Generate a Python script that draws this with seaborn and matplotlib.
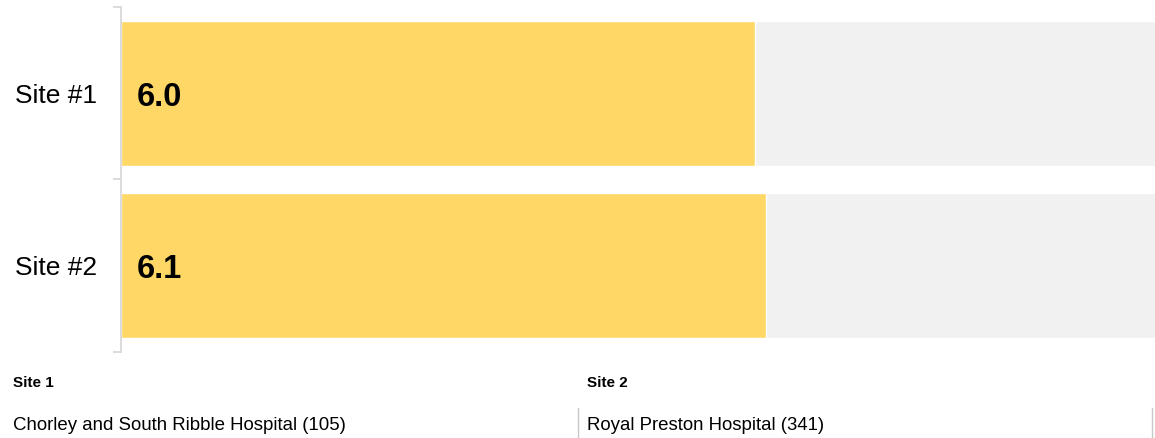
import matplotlib
matplotlib.use("Agg")
import matplotlib.pyplot as plt
from matplotlib.lines import Line2D
import seaborn as sns
import pandas as pd

sites = ["Site #1", "Site #2"]
scores = [6.0, 6.1]
max_score = [10, 10]
site_titles = ["Site 1", "Site 2"]
site_names = ["Chorley and South Ribble Hospital (105)", "Royal Preston Hospital (341)"]

sns.set_style("white")
plt.rcParams["font.family"] = ["Liberation Sans", "DejaVu Sans"]

df = pd.DataFrame({"site": sites, "score": scores, "max": max_score})

W, H = 1155, 438
fig = plt.figure(figsize=(W / 100, H / 100), dpi=100)
ax = fig.add_axes([121 / W, 1 - 352 / H, 1 - 121 / W, (352 - 7) / H])

sns.barplot(data=df, x="max", y="site", orient="h", color="#F1F1F1",
            width=0.84, saturation=1, ax=ax)
sns.barplot(data=df, x="score", y="site", orient="h", color="#FED766",
            width=0.84, saturation=1, ax=ax)

ax.set_xlim(0, 9.785)
ax.set_ylim(1.5, -0.5)
ax.set_xlabel("")
ax.set_ylabel("")
ax.set_xticks([])

for s in ["top", "right", "bottom"]:
    ax.spines[s].set_visible(False)
ax.spines["left"].set_color("#D6D6D6")
ax.spines["left"].set_linewidth(1.2)

ax.set_yticks([0, 1])
ax.set_yticklabels(sites, fontsize=19, color="#000000")
ax.tick_params(axis="y", which="major", length=0, pad=17)
ax.set_yticks([-0.5, 0.5, 1.5], minor=True)
ax.tick_params(axis="y", which="minor", length=6, width=1.2, color="#D6D6D6", left=True)

for i, v in enumerate(scores):
    ax.annotate(f"{v:.1f}", xy=(0, i), xytext=(11.5, -3), textcoords="offset points",
                ha="left", va="center", fontsize=23.5, fontweight="bold", color="#000000")

# site legend below the chart
col_x = [13 / W, 587 / W]
for x, t, n in zip(col_x, site_titles, site_names):
    fig.text(x, 1 - 383 / H, t, fontsize=11, fontweight="bold", va="center", ha="left", color="#000000")
    fig.text(x, 1 - 426 / H, n, fontsize=13.4, va="center", ha="left", color="#000000")

for lx in [578 / W, 1152 / W]:
    fig.add_artist(Line2D([lx, lx], [0, 1 - 408 / H], transform=fig.transFigure,
                          color="#C8C8C8", linewidth=1))

fig.savefig("out.png", dpi=100)
